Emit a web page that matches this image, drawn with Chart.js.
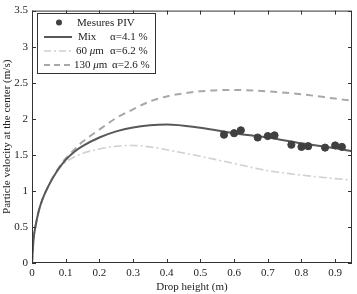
<!DOCTYPE html>
<html>
<head>
<meta charset="utf-8">
<script src="https://cdn.jsdelivr.net/npm/chart.js@4"></script>
<style>
  html, body { margin: 0; padding: 0; background: #fff; }
  #wrap { width: 357px; height: 294px; }
</style>
</head>
<body>
<div id="wrap"><canvas id="c" width="357" height="294"></canvas></div>
<script>
// Drop height (m) for model curves
const heights = [0, 0.005, 0.01, 0.02, 0.03, 0.05, 0.075, 0.1, 0.125, 0.15, 0.2, 0.25, 0.3, 0.35, 0.4, 0.5, 0.6, 0.7, 0.8, 0.9, 0.95];
const mixVel  = [0, 0.35, 0.5, 0.72, 0.87, 1.08, 1.28, 1.43, 1.54, 1.62, 1.74, 1.825, 1.88, 1.91, 1.92, 1.875, 1.80, 1.74, 1.66, 1.59, 1.55];
const vel60   = [0, 0.35, 0.5, 0.72, 0.87, 1.08, 1.27, 1.40, 1.47, 1.52, 1.58, 1.62, 1.63, 1.61, 1.57, 1.48, 1.38, 1.28, 1.22, 1.17, 1.15];
const vel130  = [0, 0.35, 0.5, 0.72, 0.87, 1.08, 1.29, 1.45, 1.57, 1.68, 1.85, 2.01, 2.13, 2.24, 2.31, 2.38, 2.40, 2.38, 2.34, 2.28, 2.25];

// PIV measurements
const pivHeights = [0.57, 0.60, 0.62, 0.67, 0.70, 0.72, 0.77, 0.80, 0.82, 0.87, 0.90, 0.92];
const pivVel     = [1.78, 1.80, 1.84, 1.74, 1.76, 1.77, 1.64, 1.61, 1.62, 1.60, 1.63, 1.61];

const xTicks = [0, 0.1, 0.2, 0.3, 0.4, 0.5, 0.6, 0.7, 0.8, 0.9];
const yTicks = [0, 0.5, 1, 1.5, 2, 2.5, 3, 3.5];

const serif = '"Liberation Serif", "DejaVu Serif", serif';
const pts = (xs, ys) => xs.map((x, i) => ({ x: x, y: ys[i] }));

// inside tick marks on all four sides + box
const boxTicks = {
  id: 'boxTicks',
  afterDraw(chart) {
    const ctx = chart.ctx, a = chart.chartArea;
    const xs = chart.scales.x, ys = chart.scales.y;
    ctx.save();
    ctx.strokeStyle = '#333';
    ctx.lineWidth = 1;
    ctx.strokeRect(a.left + 0.5, a.top + 0.5, a.right - a.left - 1, a.bottom - a.top - 1);
    ctx.beginPath();
    xTicks.forEach(v => {
      const p = Math.round(xs.getPixelForValue(v)) + 0.5;
      ctx.moveTo(p, a.bottom); ctx.lineTo(p, a.bottom - 4);
      ctx.moveTo(p, a.top); ctx.lineTo(p, a.top + 4);
    });
    yTicks.forEach(v => {
      const p = Math.round(ys.getPixelForValue(v)) + 0.5;
      ctx.moveTo(a.left, p); ctx.lineTo(a.left + 4, p);
      ctx.moveTo(a.right, p); ctx.lineTo(a.right - 4, p);
    });
    ctx.stroke();
    ctx.restore();
  }
};

// legend drawn by hand so the alpha column lines up
const boxLegend = {
  id: 'boxLegend',
  afterDraw(chart) {
    const ctx = chart.ctx;
    ctx.save();
    ctx.fillStyle = '#fff';
    ctx.fillRect(37.5, 13.5, 118, 60);
    ctx.strokeStyle = '#333';
    ctx.lineWidth = 1;
    ctx.strokeRect(37.5, 13.5, 118, 60);

    ctx.font = '11px ' + serif;
    ctx.fillStyle = '#222';
    ctx.textBaseline = 'middle';

    // Mesures PIV
    ctx.beginPath();
    ctx.arc(59, 22.5, 3, 0, Math.PI * 2);
    ctx.fillStyle = '#404040';
    ctx.fill();
    ctx.fillStyle = '#222';
    ctx.fillText('Mesures PIV', 77, 23);

    const rows = [
      { y: 37, color: '#585858', w: 2, dash: [], a: 'Mix', b: 'α=4.1 %', bx: 110 },
      { y: 51, color: '#d0d0d0', w: 1.5, dash: [7, 3, 2, 3], a: '60 ', mu: true, b: 'α=6.2 %', bx: 110 },
      { y: 65, color: '#a8a8a8', w: 2, dash: [6, 4], a: '130 ', mu: true, b: 'α=2.6 %', bx: 112 }
    ];
    rows.forEach(r => {
      ctx.beginPath();
      ctx.strokeStyle = r.color;
      ctx.lineWidth = r.w;
      ctx.setLineDash(r.dash);
      ctx.moveTo(44, r.y);
      ctx.lineTo(72, r.y);
      ctx.stroke();
      ctx.setLineDash([]);
      ctx.font = '11px ' + serif;
      const x0 = r.a === 'Mix' ? 78 : (r.a === '60 ' ? 76 : 74);
      ctx.fillText(r.a, x0, r.y + 0.5);
      if (r.mu) {
        const w = ctx.measureText(r.a).width;
        ctx.font = 'italic 11px ' + serif;
        ctx.fillText('μ', x0 + w, r.y + 0.5);
        const wm = ctx.measureText('μ').width;
        ctx.font = '11px ' + serif;
        ctx.fillText('m', x0 + w + wm, r.y + 0.5);
      }
      ctx.fillText(r.b, r.bx, r.y + 0.5);
    });
    ctx.restore();
  }
};

new Chart(document.getElementById('c').getContext('2d'), {
  type: 'scatter',
  data: {
    datasets: [
      {
        label: 'Mesures PIV',
        data: pts(pivHeights, pivVel),
        backgroundColor: '#404040',
        borderColor: '#404040',
        pointRadius: 3.6,
        showLine: false
      },
      {
        label: 'Mix',
        data: pts(heights, mixVel),
        showLine: true,
        borderColor: '#585858',
        borderWidth: 2,
        pointRadius: 0,
        cubicInterpolationMode: 'monotone'
      },
      {
        label: '130 µm',
        data: pts(heights, vel130),
        showLine: true,
        borderColor: '#a8a8a8',
        borderWidth: 2,
        borderDash: [7, 5],
        pointRadius: 0,
        cubicInterpolationMode: 'monotone'
      },
      {
        label: '60 µm',
        data: pts(heights, vel60),
        showLine: true,
        borderColor: '#d0d0d0',
        borderWidth: 1.6,
        borderDash: [8, 3, 2, 3],
        pointRadius: 0,
        cubicInterpolationMode: 'monotone'
      }
    ]
  },
  options: {
    responsive: false,
    animation: false,
    layout: { padding: { top: 7, right: 2, left: 1, bottom: 0 } },
    plugins: {
      legend: { display: false },
      tooltip: { enabled: false }
    },
    scales: {
      x: {
        type: 'linear',
        min: 0,
        max: 0.95,
        afterBuildTicks: s => { s.ticks = xTicks.map(v => ({ value: v })); },
        afterFit: s => { s.height = 31; },
        grid: { display: false, drawTicks: false },
        border: { display: false },
        ticks: {
          padding: 4,
          color: '#222',
          font: { family: serif, size: 11 },
          callback: v => String(v)
        },
        title: {
          display: true,
          text: 'Drop height (m)',
          color: '#222',
          font: { family: serif, size: 11 },
          padding: { top: 1, bottom: 0 }
        }
      },
      y: {
        min: 0,
        max: 3.5,
        afterBuildTicks: s => { s.ticks = yTicks.map(v => ({ value: v })); },
        afterFit: s => { s.width = 31; },
        grid: { display: false, drawTicks: false },
        border: { display: false },
        ticks: {
          padding: 4,
          color: '#222',
          font: { family: serif, size: 11 },
          callback: v => String(v)
        },
        title: {
          display: true,
          text: 'Particle velocity at the center (m/s)',
          color: '#222',
          font: { family: serif, size: 11 },
          padding: { top: 0, bottom: 0 }
        }
      }
    }
  },
  plugins: [boxTicks, boxLegend]
});
</script>
</body>
</html>
